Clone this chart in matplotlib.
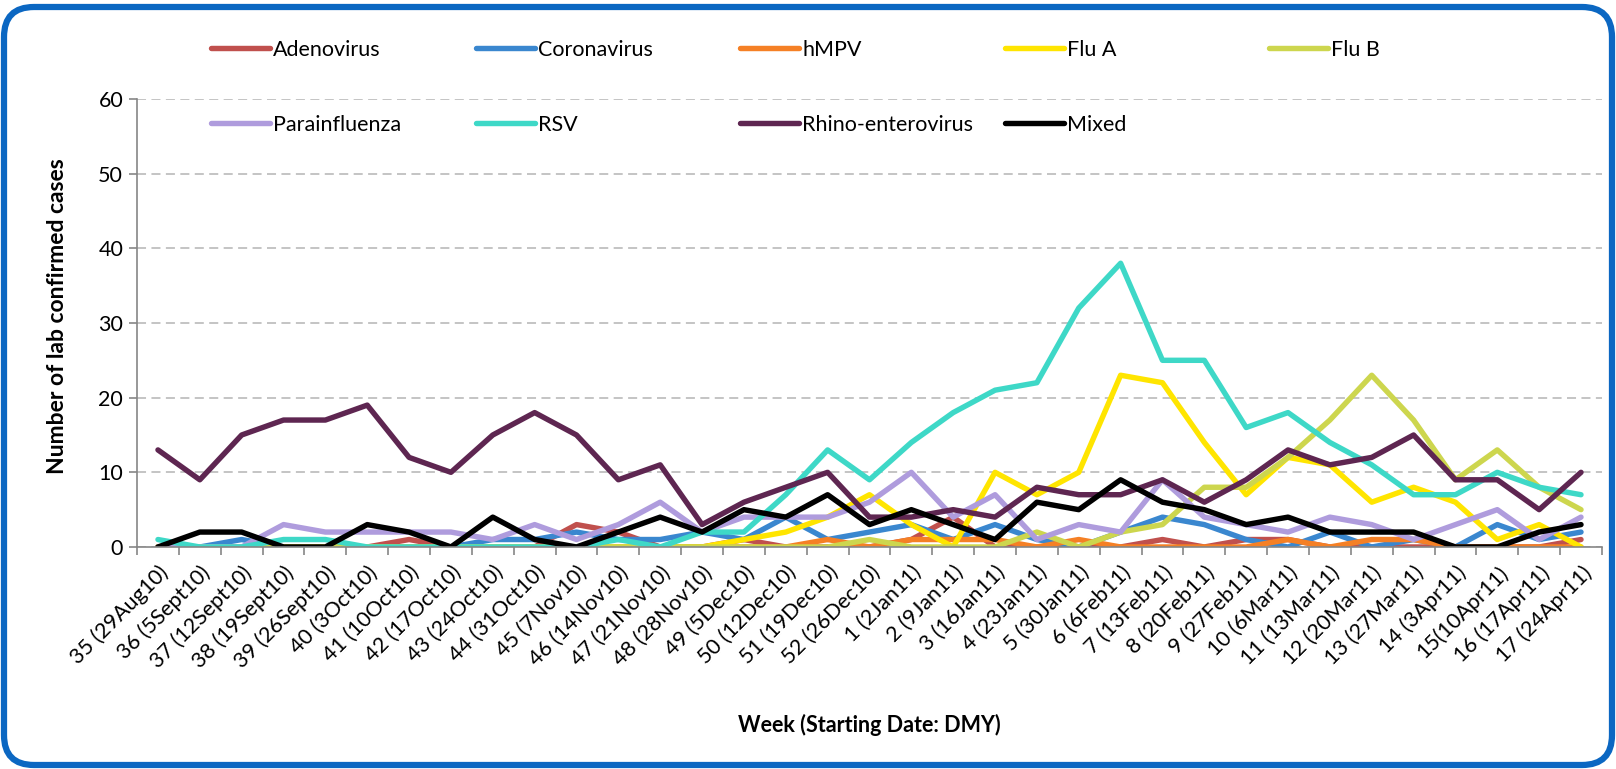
import matplotlib.pyplot as plt
from matplotlib.patches import FancyBboxPatch

plt.rcParams['font.family'] = ['Lato', 'DejaVu Sans']

# weeks (starting date)
weeks = ['35 (29Aug10)', '36 (5Sept10)', '37 (12Sept10)', '38 (19Sept10)', '39 (26Sept10)',
         '40 (3Oct10)', '41 (10Oct10)', '42 (17Oct10)', '43 (24Oct10)', '44 (31Oct10)',
         '45 (7Nov10)', '46 (14Nov10)', '47 (21Nov10)', '48 (28Nov10)', '49 (5Dec10)',
         '50 (12Dec10)', '51 (19Dec10)', '52 (26Dec10)', '1 (2Jan11)', '2 (9Jan11)',
         '3 (16Jan11)', '4 (23Jan11)', '5 (30Jan11)', '6 (6Feb11)', '7 (13Feb11)',
         '8 (20Feb11)', '9 (27Feb11)', '10 (6Mar11)', '11 (13Mar11)', '12 (20Mar11)',
         '13 (27Mar11)', '14 (3Apr11)', '15(10Apr11)', '16 (17Apr11)', '17 (24Apr11)']

adenovirus = [0, 0, 0, 0, 0, 0, 1, 0, 0, 0, 3, 2, 0, 0, 1, 0, 0, 0,
              1, 4, 0, 0, 0, 0, 1, 0, 1, 1, 0, 0, 0, 0, 0, 0, 1]
coronavirus = [0, 0, 1, 0, 0, 0, 0, 0, 1, 1, 2, 1, 1, 2, 1, 4, 1, 2,
               3, 1, 3, 1, 0, 2, 4, 3, 1, 0, 2, 0, 1, 0, 3, 1, 2]
hmpv = [0, 0, 0, 0, 0, 0, 0, 0, 0, 0, 0, 0, 0, 0, 0, 0, 1, 0,
        1, 1, 1, 0, 1, 0, 0, 0, 0, 1, 0, 1, 1, 0, 0, 0, 0]
flu_a = [0, 0, 0, 0, 0, 0, 0, 0, 0, 0, 0, 0, 0, 0, 1, 2, 4, 7,
         3, 0, 10, 7, 10, 23, 22, 14, 7, 12, 11, 6, 8, 6, 1, 3, 0]
flu_b = [0, 0, 0, 0, 0, 0, 0, 0, 0, 0, 0, 0, 0, 0, 0, 0, 0, 1,
         0, 0, 0, 2, 0, 2, 3, 8, 8, 12, 17, 23, 17, 9, 13, 8, 5]
parainfluenza = [0, 0, 0, 3, 2, 2, 2, 2, 1, 3, 1, 3, 6, 2, 4, 4, 4, 6,
                 10, 4, 7, 1, 3, 2, 9, 4, 3, 2, 4, 3, 1, 3, 5, 1, 4]
rsv = [1, 0, 0, 1, 1, 0, 0, 0, 0, 0, 0, 1, 0, 2, 2, 7, 13, 9,
       14, 18, 21, 22, 32, 38, 25, 25, 16, 18, 14, 11, 7, 7, 10, 8, 7]
rhino = [13, 9, 15, 17, 17, 19, 12, 10, 15, 18, 15, 9, 11, 3, 6, 8, 10, 4,
         4, 5, 4, 8, 7, 7, 9, 6, 9, 13, 11, 12, 15, 9, 9, 5, 10]
mixed = [0, 2, 2, 0, 0, 3, 2, 0, 4, 1, 0, 2, 4, 2, 5, 4, 7, 3,
         5, 3, 1, 6, 5, 9, 6, 5, 3, 4, 2, 2, 2, 0, 0, 2, 3]

series = [
    ('Adenovirus', adenovirus, '#C0504D'),
    ('Coronavirus', coronavirus, '#3A87CF'),
    ('hMPV', hmpv, '#F58025'),
    ('Flu A', flu_a, '#FFE500'),
    ('Flu B', flu_b, '#CDD64E'),
    ('Parainfluenza', parainfluenza, '#AF9CDD'),
    ('RSV', rsv, '#3ED8C7'),
    ('Rhino-enterovirus', rhino, '#5E2651'),
    ('Mixed', mixed, '#000000'),
]

fs = 15.5

fig = plt.figure(figsize=(16.16, 7.69), dpi=100)
ax = fig.add_axes([0.0848, 0.2887, 0.9065, 0.5826])

x = list(range(len(weeks)))
lines = []
for name, vals, col in series:
    ln, = ax.plot(x, vals, color=col, lw=3.9, label=name,
                  solid_joinstyle='round', solid_capstyle='round')
    lines.append(ln)

ax.set_xlim(-0.5, len(weeks) - 0.5)
ax.set_ylim(0, 60)
ax.set_yticks(range(0, 61, 10))
ax.set_xticks(x)
ax.set_xticklabels(weeks, rotation=45, ha='right', rotation_mode='anchor', fontsize=fs)
ax.set_xticks([i - 0.5 for i in range(len(weeks) + 1)], minor=True)
ax.tick_params(axis='x', which='major', length=0, pad=11)
ax.tick_params(axis='x', which='minor', length=6, color='#868686', width=1.2)
ax.tick_params(axis='y', length=6, color='#868686', width=1.2, labelsize=fs, pad=4)

ax.yaxis.grid(True, linestyle=(0, (5, 3)), color='#BFBFBF', lw=1.3)
ax.set_axisbelow(True)
for s in ['top', 'right']:
    ax.spines[s].set_visible(False)
ax.spines['left'].set_color('#868686')
ax.spines['bottom'].set_color('#868686')
ax.spines['left'].set_linewidth(1.2)
ax.spines['bottom'].set_linewidth(1.2)

ax.set_ylabel('Number of lab confirmed cases', fontsize=16.5, fontweight='bold')
ax.yaxis.set_label_coords(-0.047, 0.515)
ax.set_xlabel('Week (Starting Date: DMY)', fontsize=fs, fontweight='bold')
ax.xaxis.set_label_coords(0.5, -0.372)

# legend: 5 columns, 2 rows, even spacing like Excel
for c in range(5):
    hs = [lines[c]] + ([lines[c + 5]] if c + 5 < len(lines) else [])
    fig.legend(hs, [h.get_label() for h in hs], loc='upper left',
               bbox_to_anchor=((211 + 264.5 * c) / 1616, 1 - 40 / 769),
               frameon=False, fontsize=fs, borderpad=0, borderaxespad=0,
               handlelength=2.75, handletextpad=0.14, labelspacing=2.55)

border = FancyBboxPatch((0.04, 0.04), 16.08, 7.58,
                        boxstyle='round,pad=0,rounding_size=0.3',
                        transform=fig.dpi_scale_trans, ec='#0B67C2', fc='none', lw=4.5)
fig.patches.append(border)

fig.savefig('out.png', dpi=100)
